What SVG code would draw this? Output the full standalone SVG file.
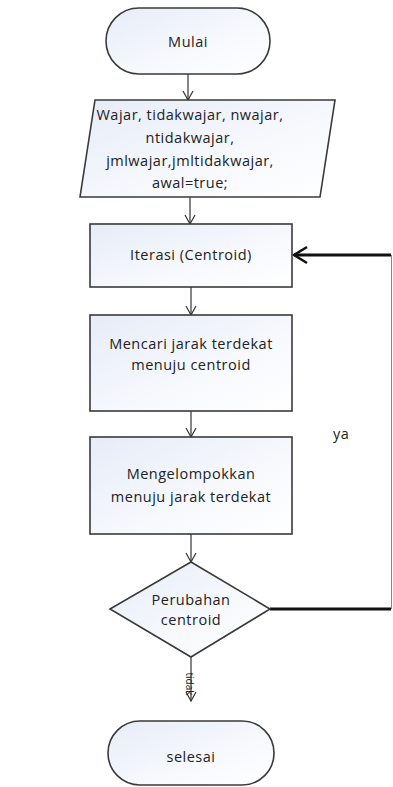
<svg xmlns="http://www.w3.org/2000/svg" width="393" height="787" viewBox="0 0 393 787">
<defs>
<linearGradient id="g" x1="0" y1="0" x2="1" y2="1">
<stop offset="0" stop-color="#e6ecf8"/>
<stop offset="0.6" stop-color="#f7f9fd"/>
<stop offset="1" stop-color="#ffffff"/>
</linearGradient>
<marker id="a" markerWidth="12" markerHeight="12" refX="10" refY="6" orient="auto" markerUnits="userSpaceOnUse">
<path d="M1,1 L10,6 L1,11" fill="none" stroke="#333" stroke-width="1.2"/>
</marker>
<marker id="b" markerWidth="16" markerHeight="20" refX="14" refY="10" orient="auto" markerUnits="userSpaceOnUse">
<path d="M1,2 L14,10 L1,18" fill="none" stroke="#111" stroke-width="2.5"/>
</marker>
</defs>
<style>
.n{fill:url(#g);stroke:#3a3a3a;stroke-width:1.6}
.t{font-family:"Open Sans","Noto Sans",sans-serif;font-size:14.5px;letter-spacing:0.5px;fill:#222;text-anchor:middle}
.c{fill:none;stroke:#333;stroke-width:1.2}
.f{fill:none;stroke:#111;stroke-width:3}
</style>
<g id="connectors">
<line class="c" x1="188" y1="74" x2="188" y2="100" marker-end="url(#a)"/>
<line class="c" x1="190" y1="197" x2="190" y2="224" marker-end="url(#a)"/>
<line class="c" x1="191" y1="287" x2="191" y2="315" marker-end="url(#a)"/>
<line class="c" x1="191" y1="411" x2="191" y2="437" marker-end="url(#a)"/>
<line class="c" x1="191" y1="534" x2="191" y2="562" marker-end="url(#a)"/>
<line class="c" x1="191" y1="657" x2="191" y2="701" marker-end="url(#a)"/>
<line class="f" x1="270" y1="609" x2="391" y2="609"/>
<line x1="391.5" y1="255" x2="391.5" y2="609" stroke="#888" stroke-width="1"/>
<line class="f" x1="391" y1="255" x2="294" y2="255" marker-end="url(#b)"/>
<text x="333" y="439" font-family="Open Sans, Noto Sans, sans-serif" font-size="14.5" letter-spacing="0.5" fill="#222">ya</text>
<text transform="translate(186,684) rotate(90)" font-family="Open Sans, Noto Sans, sans-serif" font-size="10" fill="#222" text-anchor="middle">tidak</text>
</g>
<g id="mulai">
<rect class="n" x="106" y="8" width="164" height="66" rx="33"/>
<text class="t" x="188" y="47">Mulai</text>
</g>
<g id="input">
<polygon class="n" points="95,100 335,100 320,197 80,197"/>
<text class="t" x="190" y="120">Wajar, tidakwajar, nwajar,</text>
<text class="t" x="190" y="143">ntidakwajar,</text>
<text class="t" x="190" y="166">jmlwajar,jmltidakwajar,</text>
<text class="t" x="190" y="188">awal=true;</text>
</g>
<g id="iterasi">
<rect class="n" x="90" y="224" width="202" height="63"/>
<text class="t" x="191" y="260">Iterasi (Centroid)</text>
</g>
<g id="mencari">
<rect class="n" x="90" y="315" width="202" height="96"/>
<text class="t" x="191" y="349">Mencari jarak terdekat</text>
<text class="t" x="191" y="370">menuju centroid</text>
</g>
<g id="mengelompokkan">
<rect class="n" x="90" y="437" width="202" height="97"/>
<text class="t" x="191" y="479">Mengelompokkan</text>
<text class="t" x="191" y="502">menuju jarak terdekat</text>
</g>
<g id="perubahan">
<polygon class="n" points="191,562 270,609 191,657 110,609"/>
<text class="t" x="191" y="605">Perubahan</text>
<text class="t" x="191" y="625">centroid</text>
</g>
<g id="selesai">
<rect class="n" x="108" y="721" width="166" height="64" rx="32"/>
<text class="t" x="191" y="762">selesai</text>
</g>
</svg>
